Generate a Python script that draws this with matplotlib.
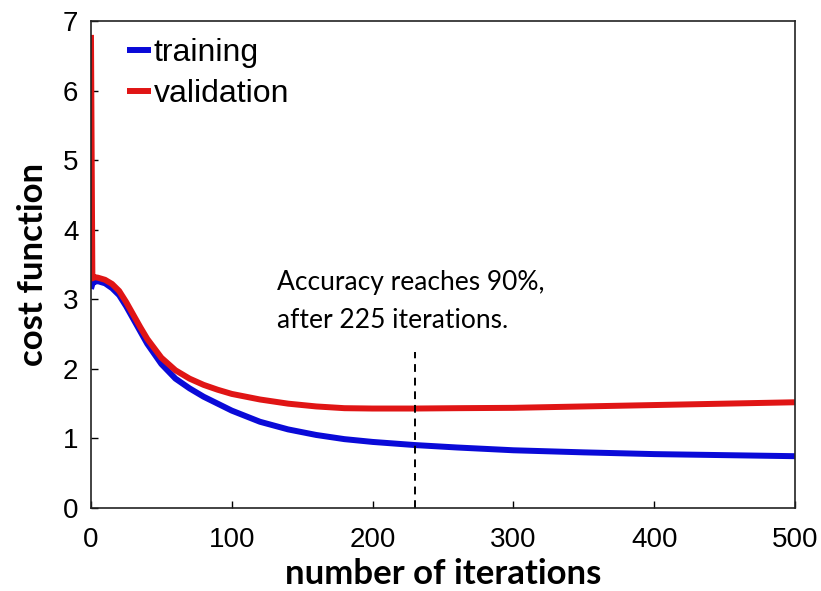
import matplotlib
matplotlib.use('Agg')
import matplotlib.pyplot as plt

iters = [0, 1, 2, 5, 10, 15, 20, 25, 30, 35, 40, 50, 60, 70, 80, 90, 100,
         120, 140, 160, 180, 200, 230, 260, 300, 350, 400, 450, 500]
validation = [6.8, 3.3, 3.32, 3.31, 3.28, 3.22, 3.12, 2.96, 2.78, 2.60, 2.43,
              2.16, 1.98, 1.86, 1.77, 1.70, 1.64, 1.56, 1.50, 1.46, 1.435,
              1.43, 1.43, 1.435, 1.44, 1.46, 1.48, 1.50, 1.52]
training = [3.15, 3.22, 3.25, 3.26, 3.23, 3.16, 3.06, 2.90, 2.72, 2.54, 2.36,
            2.07, 1.86, 1.72, 1.60, 1.50, 1.40, 1.24, 1.13, 1.05, 0.99,
            0.95, 0.905, 0.87, 0.83, 0.80, 0.775, 0.76, 0.745]
marker_iter = 230
note = 'Accuracy reaches 90%,\nafter 225 iterations.'

fig = plt.figure(figsize=(8.21, 5.91), dpi=100)
ax = fig.add_axes([0.1108, 0.1404, 0.8575, 0.8241])

ax.plot(iters, training, color='#0a0ad8', lw=4.3, label='training', solid_capstyle='butt')
ax.plot(iters, validation, color='#e01515', lw=4.3, label='validation', solid_capstyle='butt')
ax.plot([marker_iter, marker_iter], [0, 2.24], color='k', lw=1.4, ls=(0, (4, 3)))

ax.text(132, 3.42, note, fontsize=19, family='Lato', va='top', ha='left', linespacing=1.65)

ax.set_xlim(0, 500)
ax.set_ylim(0, 7)
ax.set_xticks([0, 100, 200, 300, 400, 500])
ax.set_yticks(range(8))
ax.tick_params(direction='in', length=5, width=1, labelsize=20)
ax.tick_params(axis='x', pad=14)
ax.tick_params(axis='y', pad=9)
for lab in ax.get_xticklabels() + ax.get_yticklabels():
    lab.set_family('Liberation Sans')
for s in ax.spines.values():
    s.set_linewidth(1.2)
    s.set_color('#222222')

ax.set_xlabel('number of iterations', fontsize=25, family='Lato', fontweight='bold', labelpad=3)
ax.set_ylabel('cost function', fontsize=25, family='Lato', fontweight='bold', labelpad=10)

leg = ax.legend(loc='upper left', frameon=False, prop={'family': 'Liberation Sans', 'size': 23},
                handlelength=0.75, handletextpad=0.08, borderaxespad=0.3, labelspacing=0.33,
                bbox_to_anchor=(0.02, 1.01))

fig.savefig('out.png', dpi=100)
